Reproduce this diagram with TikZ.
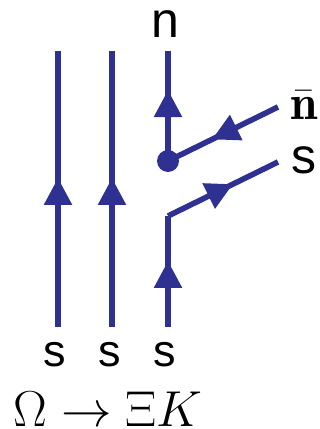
\documentclass[tikz,border=0pt]{standalone}
\usepackage{fontspec}
\setsansfont{Liberation Sans}
\usetikzlibrary{arrows.meta,decorations.markings}
\definecolor{quark}{RGB}{46,49,146}
\tikzset{
  quarkline/.style={draw=quark, line width=5.6pt},
  flow/.style={postaction={decorate}, decoration={markings,
      mark=at position #1 with {\arrow[quark]{Triangle[length=27pt,width=27pt]}}}},
  flavour/.style={font=\sffamily\fontsize{#1}{#1}\selectfont, inner sep=0pt},
  bigmath/.style={inner sep=0pt, font=\fontsize{24.88}{30}\selectfont, scale=#1},
}
\begin{document}
\begin{tikzpicture}[x=1pt,y=-1pt]
  \useasboundingbox (0,0) rectangle (320,429);

  % end points of the three quark lines
  \coordinate (b1) at (58,327);  \coordinate (t1) at (58,51);
  \coordinate (b2) at (112,327); \coordinate (t2) at (112,51);
  \coordinate (b3) at (168,327); \coordinate (k3) at (168,216);
  \coordinate (e3) at (278,162);
  \coordinate (t3) at (168,51);
  \coordinate (nb) at (278,107);

  % spectator quarks
  \draw[quarkline, flow=0.54] (b1) -- (t1);
  \draw[quarkline, flow=0.54] (b2) -- (t2);

  % decaying strange quark
  \draw[quarkline, flow=0.595] (b3) -- (k3);
  \draw[quarkline, flow=0.59] (k3) -- (e3);

  % vertex with the produced pair
  \node[circle, fill=quark, minimum size=22pt, inner sep=0pt] (v) at (168,161) {};
  \draw[quarkline, flow=0.6] (nb) -- (v.center);
  \draw[quarkline, flow=0.645] (v.center) -- (t3);

  % labels
  \node[flavour=50] (ln) at (165,24) {n};
  \node[bigmath=1.98] (lnb) at (304,105.5) {$\bar{\mathbf{n}}$};
  \node[flavour=50] (ls) at (303.5,160.5) {s};
  \node[flavour=45] (s1) at (55,355) {s};
  \node[flavour=45] (s2) at (109.5,355) {s};
  \node[flavour=45] (s3) at (164.5,355) {s};
  \node[bigmath=2.03, anchor=west] (dec) at (13,409) {$\Omega\rightarrow\Xi K$};
\end{tikzpicture}
\end{document}
